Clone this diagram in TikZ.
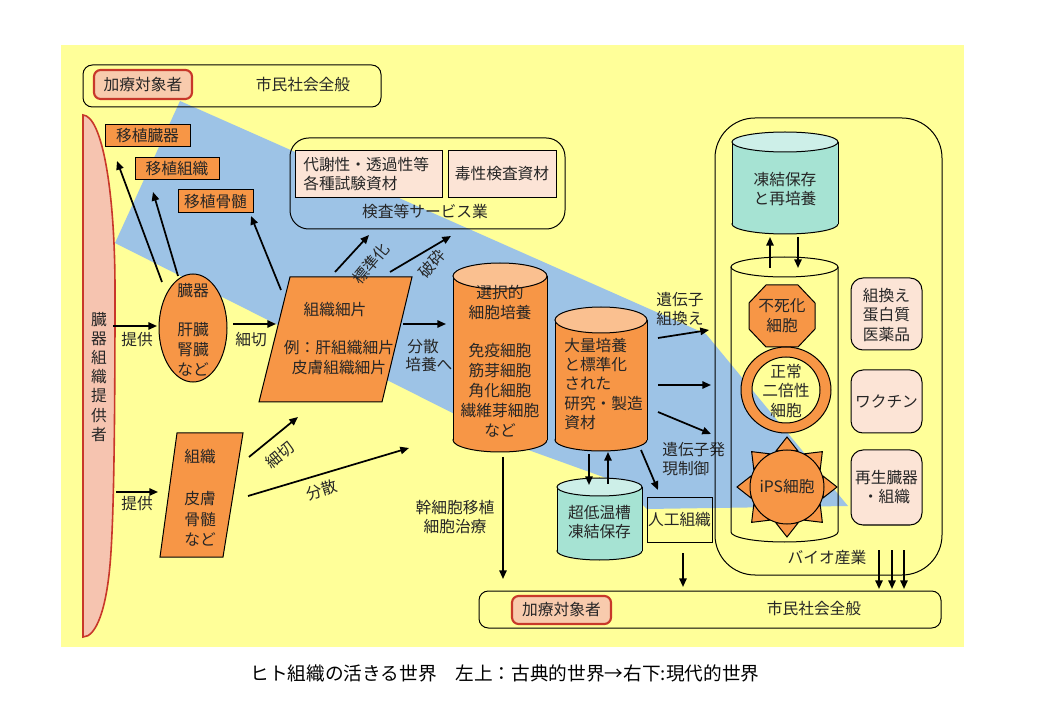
\documentclass[tikz,border=0pt]{standalone}
\usepackage{fontspec}
\setmainfont{Noto Sans CJK JP}
\usetikzlibrary{arrows.meta}
\definecolor{bgyel}{HTML}{FFFF99}
\definecolor{bandc}{HTML}{9DC3E6}
\definecolor{orgc}{HTML}{F79646}
\definecolor{orgtop}{HTML}{FAC090}
\definecolor{tealc}{HTML}{A6E3D3}
\definecolor{tealtop}{HTML}{CDEFE8}
\definecolor{pinkbox}{HTML}{FCE4D6}
\definecolor{salmonc}{HTML}{F8CBAD}
\definecolor{barpink}{HTML}{F6C4B0}
\definecolor{redb}{HTML}{C8382A}
\definecolor{txt}{HTML}{262626}
\newcommand\fs{\fontsize{11.8}{15}\selectfont}
\begin{document}
\begin{tikzpicture}[x=0.75pt,y=-0.75pt,
  every node/.style={font=\fs, text=txt, inner sep=0pt, align=center},
  arr/.style={-{Triangle[length=6.5pt,width=5.5pt]}, line width=1.3pt, black},
  ln/.style={draw=black, line width=0.75pt},
  cure/.style={draw=redb, fill=salmonc, line width=1.6pt, rounded corners=5pt},
  obox/.style={ln, fill=orgc},
  pbox/.style={ln, fill=pinkbox, rounded corners=9pt}]
\useasboundingbox (0,0) rectangle (1040,720);
\fill[white] (0,0) rectangle (1040,720);
\fill[bgyel] (61,45) rectangle (964,647);
% blue band
\fill[bandc] (180,101) -- (706,334) -- (848,506) -- (647,509) -- (620,483) -- (520,447) -- (115,243) -- cycle;

% top box
\draw[ln, rounded corners=7pt] (83,65) rectangle (381,107);
\draw[cure] (94,70) rectangle (192,99);
\node (cure1) at (143,85) {加療対象者};
\node (civ1) at (303,85) {市民社会全般};

% left donor bar
\draw[draw=redb, fill=barpink, line width=1.2pt] (83,637) -- (83,115) .. controls (102,116) and (115,190) .. (115,290) .. controls (115,420) and (114,520) .. (110,565) .. controls (106,610) and (96,637) .. (83,637) -- cycle;
\node[font=\fontsize{11.8}{14.3}\selectfont] (donor) at (99,377) {臓\\器\\組\\織\\提\\供\\者};

% transplant boxes
\draw[obox] (105,125) rectangle (190,147);
\node (tx1) at (147.5,136) {移植臓器};
\draw[obox] (135,158) rectangle (219,180);
\node (tx2) at (177,169) {移植組織};
\draw[obox] (178,190) rectangle (253,213);
\node (tx3) at (215.5,201.5) {移植骨髄};

% organ ellipse
\draw[obox] (193,328) ellipse[x radius=34, y radius=54];
\node (organ) at (193,291) {臓器};
\node (organb) at (193,349) {肝臓\\腎臓\\など};

% tissue fragment parallelogram
\draw[obox] (290,277) -- (412,277) -- (382,402) -- (259,402) -- cycle;
\node (frag) at (335,310) {組織細片};
\node (fragb) at (339,357.5) {例：肝組織細片\\皮膚組織細片};

% tissue parallelogram
\draw[obox] (177,433) -- (243,433) -- (223,557) -- (160,557) -- cycle;
\node (tis) at (200,457) {組織};
\node[font=\fontsize{11.8}{15.5}\selectfont] (tisb) at (200,519) {皮膚\\骨髄\\など};

% arrows left part
\coordinate (o1) at (162,282); \coordinate (t1) at (117,161);
\coordinate (o2) at (178,276); \coordinate (t2) at (153,192);
\coordinate (f3) at (281,290); \coordinate (t3) at (251,216);
\draw[arr] (o1) -- (t1);
\draw[arr] (o2) -- (t2);
\draw[arr] (f3) -- (t3);
\coordinate (p1s) at (113,326); \coordinate (p1e) at (157,326);
\draw[arr] (p1s) -- (p1e);
\node (lp1) at (137,340) {提供};
\coordinate (c1s) at (233,324); \coordinate (c1e) at (276,324);
\draw[arr] (c1s) -- (c1e);
\node (lc1) at (251,340) {細切};
\coordinate (p2s) at (116,492); \coordinate (p2e) at (158,492);
\draw[arr] (p2s) -- (p2e);
\node (lp2) at (137,504) {提供};
\coordinate (c2s) at (249,457); \coordinate (c2e) at (298,417);
\draw[arr] (c2s) -- (c2e);
\node[rotate=39] (lc2) at (280,455) {細切};
\coordinate (d2s) at (248,496); \coordinate (d2e) at (409,448);
\draw[arr] (d2s) -- (d2e);
\node[rotate=17] (ld2) at (322,490) {分散};
\coordinate (d1s) at (403,324); \coordinate (d1e) at (446,324);
\draw[arr] (d1s) -- (d1e);
\node[anchor=west] (ld1a) at (407,347) {分散};
\node[anchor=west] (ld1b) at (405,365) {培養へ};

% service box
\draw[ln, rounded corners=14pt] (290,138) rectangle (565,229);
\draw[ln, fill=pinkbox] (295,151) rectangle (442,198);
\node[anchor=west, align=left, font=\fontsize{11.8}{13.8}\selectfont] (svc1) at (303,174) {代謝性・透過性等\\各種試験資材};
\draw[ln, fill=pinkbox] (448,151) rectangle (556,198);
\node (svc2) at (502,174) {毒性検査資材};
\node (svc) at (425,212) {検査等サービス業};
\coordinate (s1s) at (335,272); \coordinate (s1e) at (369,235);
\draw[arr] (s1s) -- (s1e);
\node[rotate=50] (ls1) at (371,264) {標準化};
\coordinate (s2s) at (390,272); \coordinate (s2e) at (451,236);
\draw[arr] (s2s) -- (s2e);
\node[rotate=50] (ls2) at (432,264) {破砕};

% cylinder: selective culture
\draw[ln, fill=orgc] (500,440) ellipse[x radius=47, y radius=12];
\fill[orgc] (453,276) rectangle (547,440);
\draw[ln] (453,276) -- (453,440) (547,276) -- (547,440);
\draw[ln, fill=orgtop] (500,276) ellipse[x radius=47, y radius=13];
\node[font=\fontsize{11.8}{14.3}\selectfont] (sel) at (500,302.5) {選択的\\細胞培養};
\node (selb) at (500,390) {免疫細胞\\筋芽細胞\\角化細胞\\繊維芽細胞\\など};

% cylinder: mass culture
\draw[ln, fill=orgc] (601,440) ellipse[x radius=46, y radius=11];
\fill[orgc] (555,320) rectangle (647,440);
\draw[ln] (555,320) -- (555,440) (647,320) -- (647,440);
\draw[ln, fill=orgtop] (601,320) ellipse[x radius=46, y radius=13];
\node[anchor=west, align=left, font=\fontsize{11.8}{14.6}\selectfont] (mass) at (564,384) {大量培養\\と標準化\\された\\研究・製造\\資材};

% cylinder: deep freezer
\draw[ln, fill=tealc] (599.5,551) ellipse[x radius=42.5, y radius=9];
\fill[tealc] (557,487) rectangle (642,551);
\draw[ln] (557,487) -- (557,551) (642,487) -- (642,551);
\draw[ln, fill=tealtop] (599.5,487) ellipse[x radius=42.5, y radius=9];
\node[font=\fontsize{11.8}{14.3}\selectfont] (frz) at (599.5,522) {超低温槽\\凍結保存};
\coordinate (m1s) at (589,454); \coordinate (m1e) at (589,485);
\draw[arr] (m1s) -- (m1e);
\coordinate (m2s) at (608,484); \coordinate (m2e) at (608,452);
\draw[arr] (m2s) -- (m2e);

% artificial tissue
\coordinate (a1s) at (641,450); \coordinate (a1e) at (658,490);
\draw[arr] (a1s) -- (a1e);
\draw[ln] (647,498) rectangle (712,542);
\node (art) at (679.5,520) {人工組織};
\coordinate (a2s) at (683,553); \coordinate (a2e) at (683,587);
\draw[arr] (a2s) -- (a2e);

% stem cell therapy
\coordinate (sc1) at (503,457); \coordinate (sc2) at (503,579);
\draw[arr] (sc1) -- (sc2);
\node[font=\fontsize{11.8}{14.3}\selectfont] (stem) at (455,517) {幹細胞移植\\細胞治療};

% right arrows
\coordinate (r1s) at (658,338); \coordinate (r1e) at (709,330);
\coordinate (r2s) at (658,385); \coordinate (r2e) at (711,385);
\coordinate (r3s) at (658,412); \coordinate (r3e) at (711,434);
\draw[arr] (r1s) -- (r1e);
\draw[arr] (r2s) -- (r2e);
\draw[arr] (r3s) -- (r3e);
\node[font=\fontsize{11.8}{14.3}\selectfont] (gen1) at (680,309) {遺伝子\\組換え};
\node[anchor=west, align=left, font=\fontsize{11.8}{14.3}\selectfont] (gen2) at (662,459) {遺伝子発\\現制御};

% bio industry box
\draw[ln, rounded corners=30pt] (715,118) rectangle (942,575);
\node (bio) at (827,558) {バイオ産業};
% frozen storage cylinder
\draw[ln, fill=tealc] (785,224) ellipse[x radius=53, y radius=10];
\fill[tealc] (732,142) rectangle (838,224);
\draw[ln] (732,142) -- (732,224) (838,142) -- (838,224);
\draw[ln, fill=tealtop] (785,142) ellipse[x radius=53, y radius=10];
\node[font=\fontsize{11.8}{14.3}\selectfont] (fzs) at (785,189.5) {凍結保存\\と再培養};
\coordinate (b1s) at (770,268); \coordinate (b1e) at (770,237);
\coordinate (b2s) at (798,237); \coordinate (b2e) at (798,268);
\draw[arr] (b1s) -- (b1e);
\draw[arr] (b2s) -- (b2e);
% inner transparent cylinder
\draw[ln] (731,267) -- (731,532) arc[start angle=180, end angle=0, x radius=53.5, y radius=10] -- (838,267);
\draw[ln] (784.5,267) ellipse[x radius=53.5, y radius=10];
% immortalized cell octagon
\draw[obox] (815,303) -- (798,285) -- (766,285) -- (749,303) -- (749,329) -- (766,347) -- (798,347) -- (815,329) -- cycle;
\node (imm) at (782,316) {不死化\\細胞};
% normal diploid ring
\draw[obox, even odd rule] (786,390) ellipse[x radius=45, y radius=43] (786,390) ellipse[x radius=34, y radius=33];
\node[font=\fontsize{11.8}{14.3}\selectfont] (dip) at (786,391) {正常\\二倍性\\細胞};
% iPS sun
\foreach \a in {0,45,...,315} {
  \begin{scope}[shift={(787,487)}, rotate=\a]
    \draw[obox] (50,0) -- (36,11) -- (36,-11) -- cycle;
  \end{scope}
}
\draw[obox] (787,487) circle[radius=37];
\node (ips) at (787,487) {iPS細胞};
% right product boxes
\draw[pbox] (851,278) rectangle (922,350);
\node[font=\fontsize{11.8}{14.5}\selectfont] (prot) at (886.5,315) {組換え\\蛋白質\\医薬品};
\draw[pbox] (851,370) rectangle (922,433);
\node (vac) at (886.5,401) {ワクチン};
\draw[pbox] (851,450) rectangle (922,525);
\node[font=\fontsize{11.8}{14.5}\selectfont] (regen) at (886.5,487) {再生臓器\\・組織};
\coordinate (e1s) at (879,550); \coordinate (e1e) at (879,589);
\coordinate (e2s) at (892,550); \coordinate (e2e) at (892,589);
\coordinate (e3s) at (904,550); \coordinate (e3e) at (904,589);
\draw[arr] (e1s) -- (e1e);
\draw[arr] (e2s) -- (e2e);
\draw[arr] (e3s) -- (e3e);

% bottom box
\draw[ln, rounded corners=7pt] (479,591) rectangle (941,628);
\draw[cure] (512,596) rectangle (611,624);
\node (cure2) at (561.5,610) {加療対象者};
\node (civ2) at (814,609) {市民社会全般};

% caption
\node[font=\fontsize{14}{16}\selectfont, text=black] (cap) at (505,673) {ヒト組織の活きる世界　左上：古典的世界→右下:現代的世界};
\end{tikzpicture}
\end{document}
